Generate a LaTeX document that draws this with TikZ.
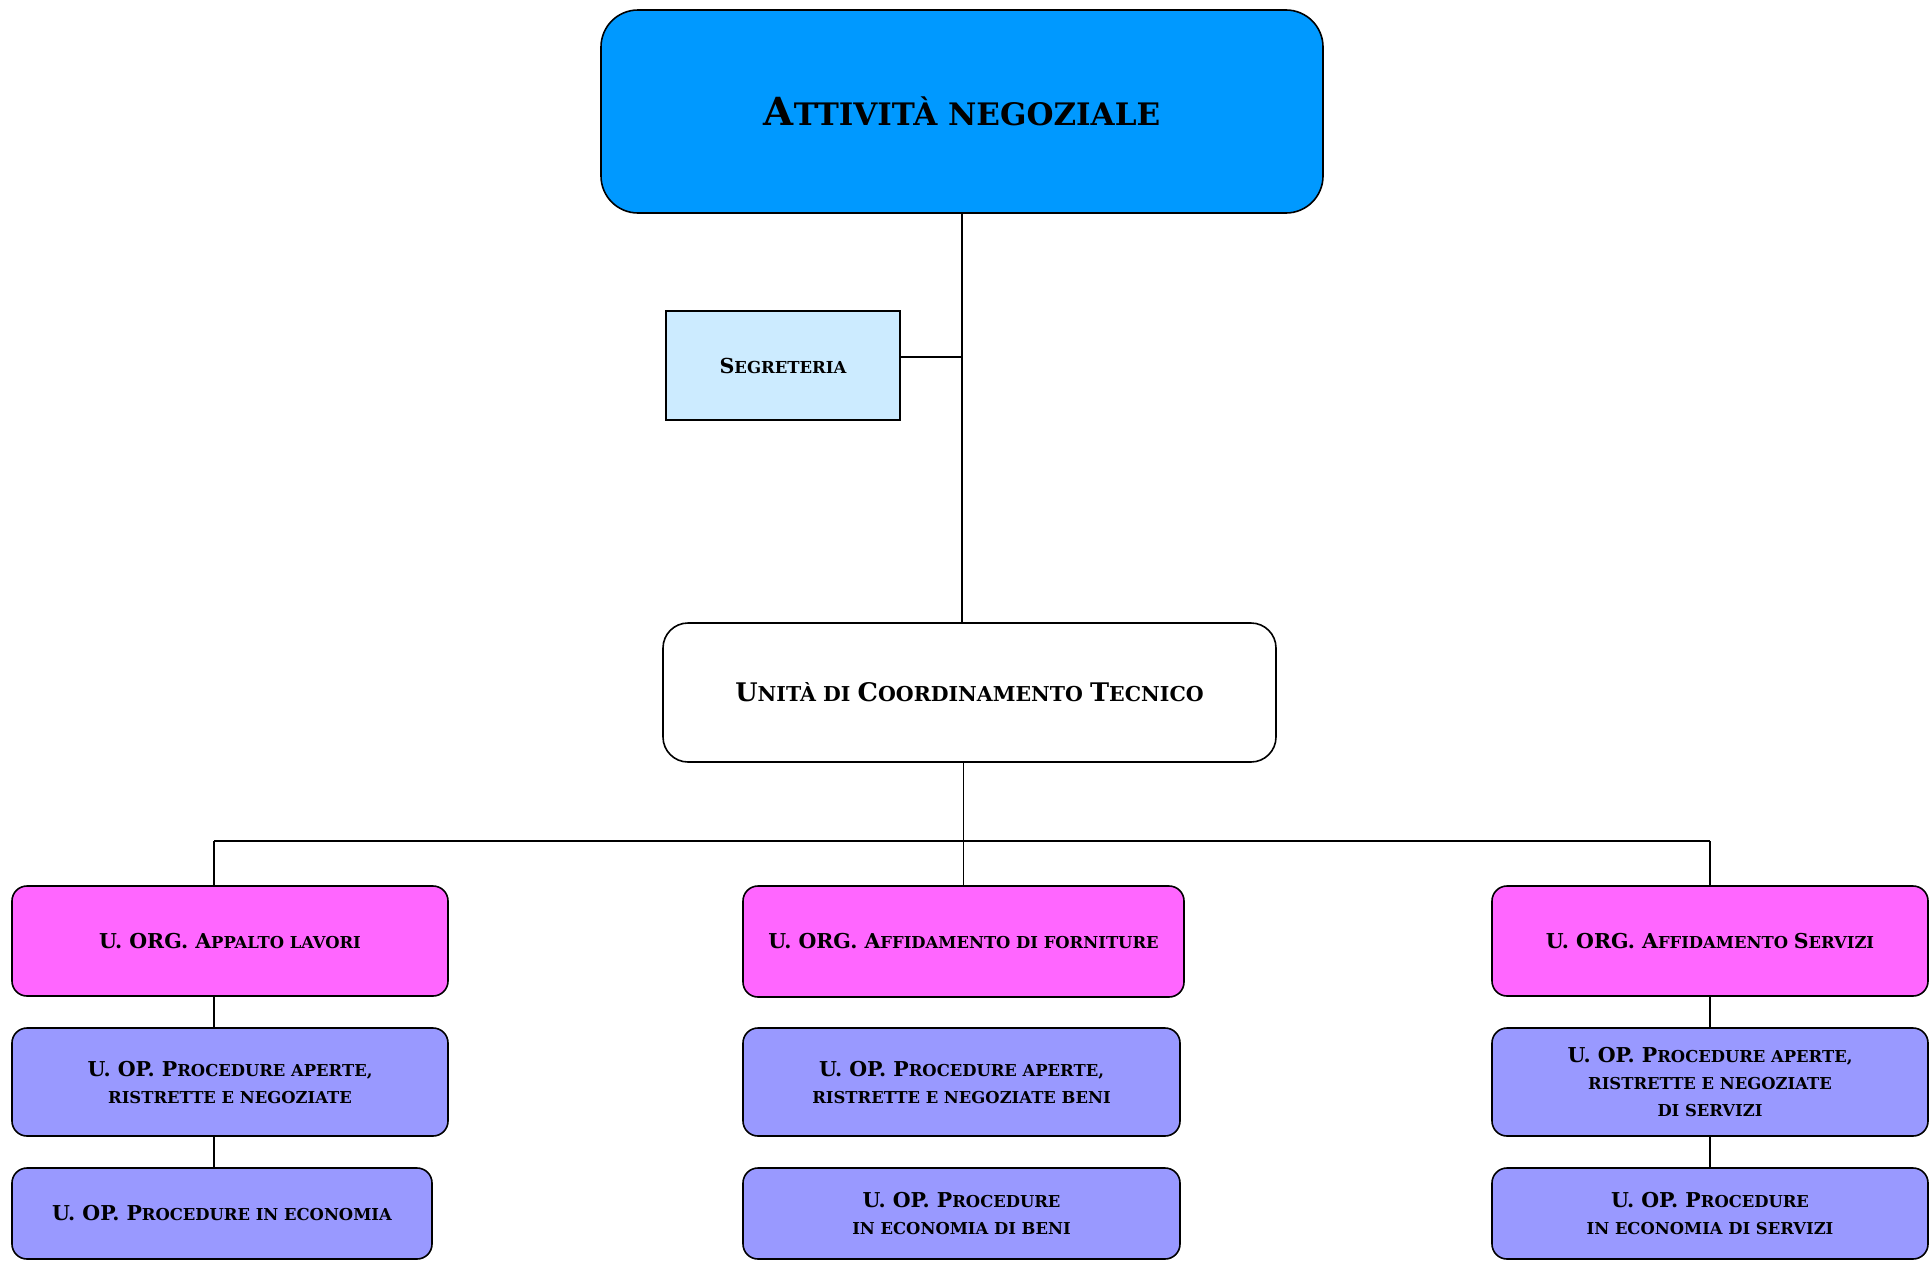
\documentclass[tikz,border=0pt]{standalone}
\usepackage{fontspec}
\setmainfont{DejaVu Serif}
\makeatletter
\newcommand\B[1]{{\fontsize{\strip@pt\dimexpr\f@size pt*5/4\relax}{\f@baselineskip}\selectfont #1}}
\makeatother
\definecolor{topblue}{HTML}{0099FF}
\definecolor{segblue}{HTML}{CCEBFF}
\definecolor{orgpink}{HTML}{FF66FF}
\definecolor{oppurple}{HTML}{9999FF}
\tikzset{
  box/.style={draw=black, line width=1.6pt, rectangle, align=center, inner sep=0pt},
  unitbox/.style={box, rounded corners=15pt, font=\fontsize{16.4}{27}\selectfont\bfseries},
  orgbox/.style={unitbox, fill=orgpink},
  opbox/.style={unitbox, fill=oppurple},
  conn/.style={draw=black, line width=1.3pt}
}
\begin{document}
\begin{tikzpicture}[x=1pt,y=-1pt]
\path[use as bounding box, fill=white] (0,0) rectangle (1930,1261);
% top
\node[box, fill=topblue, rounded corners=37pt, minimum width=722pt, minimum height=203pt,
  font=\fontsize{31}{40}\selectfont\bfseries] (top) at (962,111.5) {\B{A}TTIVITÀ NEGOZIALE};
\node[box, fill=segblue, minimum width=234pt, minimum height=109pt,
  font=\fontsize{16.5}{20}\selectfont\bfseries] (seg) at (783,365.5) {\B{S}EGRETERIA};
\node[box, fill=white, rounded corners=25pt, minimum width=613pt, minimum height=139pt,
  font=\fontsize{20.5}{28}\selectfont\bfseries] (uct) at (969.5,692.5) {\B{U}NITÀ DI \B{C}OORDINAMENTO \B{T}ECNICO};
% org row
\node[orgbox, minimum width=436pt, minimum height=110pt] (p1) at (230,941) {\B{U. ORG. A}PPALTO LAVORI};
\node[orgbox, minimum width=441pt, minimum height=111pt] (p2) at (963.5,941.5) {\B{U. ORG. A}FFIDAMENTO DI FORNITURE};
\node[orgbox, minimum width=436pt, minimum height=110pt] (p3) at (1710,941) {\B{U. ORG. A}FFIDAMENTO \B{S}ERVIZI};
% op row 2
\node[opbox, minimum width=436pt, minimum height=108pt] (a1) at (230,1082) {\B{U. OP. P}ROCEDURE APERTE,\\ RISTRETTE E NEGOZIATE};
\node[opbox, minimum width=437pt, minimum height=108pt] (a2) at (961.5,1082) {\B{U. OP. P}ROCEDURE APERTE,\\ RISTRETTE E NEGOZIATE BENI};
\node[opbox, minimum width=436pt, minimum height=108pt] (a3) at (1710,1082) {\B{U. OP. P}ROCEDURE APERTE,\\ RISTRETTE E NEGOZIATE\\ DI SERVIZI};
% op row 3
\node[opbox, minimum width=420pt, minimum height=91pt] (e1) at (222,1213.5) {\B{U. OP. P}ROCEDURE IN ECONOMIA};
\node[opbox, minimum width=437pt, minimum height=91pt] (e2) at (961.5,1213.5) {\B{U. OP. P}ROCEDURE\\ IN ECONOMIA DI BENI};
\node[opbox, minimum width=436pt, minimum height=91pt] (e3) at (1710,1213.5) {\B{U. OP. P}ROCEDURE\\ IN ECONOMIA DI SERVIZI};
% connectors
\coordinate (busL) at (214,841);
\coordinate (busR) at (1710,841);
\draw[conn] (top.south) -- (top.south |- uct.north);
\draw[conn] ([yshift=8.5pt]seg.east) -- ([yshift=8.5pt]seg.east -| top.south);
\draw[conn] (p2.north |- uct.south) -- (p2.north);
\draw[conn] (busL) -- (busR);
\draw[conn] (busL) -- (busL |- p1.north);
\draw[conn] (busR) -- (p3.north);
\draw[conn] (busL |- p1.south) -- (busL |- a1.north);
\draw[conn] (busL |- a1.south) -- (busL |- e1.north);
\draw[conn] (p3.south) -- (a3.north);
\draw[conn] (a3.south) -- (e3.north);
\end{tikzpicture}
\end{document}
